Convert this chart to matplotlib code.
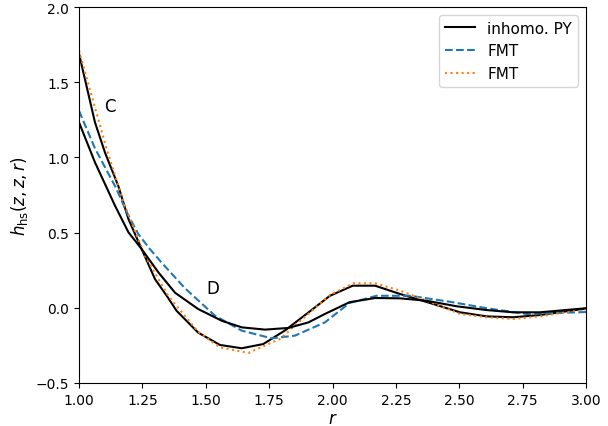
import matplotlib
matplotlib.use("Agg")
import matplotlib.pyplot as plt

# Curve C, inhomogeneous PY (black)
py_c_r = [1.00, 1.063, 1.103, 1.155, 1.195, 1.247, 1.30, 1.346, 1.385, 1.47, 1.556,
          1.642, 1.727, 1.813, 1.898, 1.99, 2.08, 2.168, 2.266, 2.398, 2.503,
          2.608, 2.713, 2.818, 3.00]
py_c_h = [1.69, 1.233, 1.03, 0.81, 0.59, 0.391, 0.19, 0.08, -0.02, -0.165, -0.247,
          -0.269, -0.241, -0.15, -0.04, 0.08, 0.147, 0.147, 0.092, 0.025, -0.03,
          -0.057, -0.063, -0.048, -0.005]

# Curve D, inhomogeneous PY (black)
py_d_r = [1.00, 1.063, 1.142, 1.195, 1.247, 1.313, 1.379, 1.47, 1.563, 1.642, 1.734,
          1.826, 1.905, 1.97, 2.067, 2.168, 2.266, 2.371, 2.49, 2.608, 2.713,
          2.818, 3.00]
py_d_h = [1.233, 0.967, 0.679, 0.502, 0.391, 0.236, 0.10, -0.008, -0.086, -0.13, -0.145,
          -0.134, -0.097, -0.041, 0.037, 0.065, 0.063, 0.047, 0.01, -0.015, -0.03,
          -0.03, -0.003]

# Curve D, FMT (blue dashed)
fmt_d_r = [1.00, 1.063, 1.145, 1.19, 1.234, 1.28, 1.326, 1.418, 1.536, 1.642, 1.76,
           1.852, 1.97, 2.067, 2.174, 2.306, 2.464, 2.608, 2.766, 3.00]
fmt_d_h = [1.31, 1.06, 0.80, 0.63, 0.49, 0.39, 0.30, 0.13, -0.052, -0.152, -0.203,
           -0.185, -0.097, 0.032, 0.08, 0.08, 0.04, -0.003, -0.041, -0.028]

# Curve C, FMT (orange dotted)
fmt_c_r = [1.00, 1.109, 1.155, 1.181, 1.26, 1.352, 1.47, 1.556, 1.668, 1.793, 1.859,
           1.99, 2.082, 2.168, 2.266, 2.398, 2.503, 2.608, 2.713, 2.818, 3.00]
fmt_c_h = [1.71, 1.056, 0.812, 0.679, 0.346, 0.08, -0.16, -0.263, -0.30, -0.207, -0.108,
           0.085, 0.163, 0.163, 0.114, 0.03, -0.041, -0.063, -0.074, -0.057, -0.008]

fig = plt.figure(figsize=(6.08, 4.27), dpi=100)
ax = fig.add_axes([79/608, 1-384/427, (586-79)/608, (384-8)/427])

ax.plot(py_c_r, py_c_h, color="black", lw=1.5, label="inhomo. PY")
ax.plot(fmt_d_r, fmt_d_h, color="C0", ls="--", lw=1.5, label="FMT")
ax.plot(fmt_c_r, fmt_c_h, color="C1", ls=":", lw=1.5, label="FMT")
ax.plot(py_d_r, py_d_h, color="black", lw=1.5)

ax.text(1.122, 1.34, "C", fontsize=12, ha="center", va="center")
ax.text(1.527, 0.13, "D", fontsize=12, ha="center", va="center")

ax.set_xlim(1.0, 3.0)
ax.set_ylim(-0.5, 2.0)
ax.set_xticks([1.00, 1.25, 1.50, 1.75, 2.00, 2.25, 2.50, 2.75, 3.00])
ax.set_yticks([-0.5, 0.0, 0.5, 1.0, 1.5, 2.0])
ax.set_xlabel(r"$r$", fontsize=12, labelpad=2)
ax.set_ylabel(r"$h_{\rm hs}(z,z,r)$", fontsize=12)
ax.legend(loc="upper right", fontsize=11)

fig.savefig("out.png", dpi=100)
